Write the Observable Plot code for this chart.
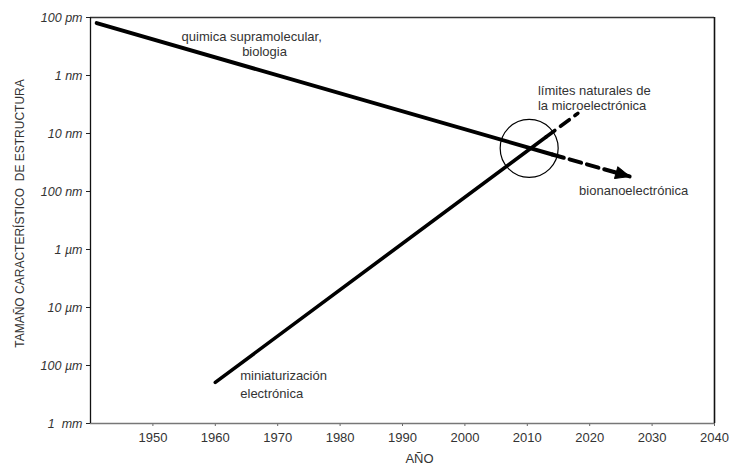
<!DOCTYPE html>
<html>
<head>
<meta charset="utf-8">
<script src="https://cdn.jsdelivr.net/npm/d3@7"></script>
<script src="https://cdn.jsdelivr.net/npm/@observablehq/plot@0.6"></script>
<style>
  html, body { margin: 0; padding: 0; background: #fff; }
</style>
</head>
<body>
<div id="chart"></div>
<script>
// ---- data (years, sizes in nanometres) ----
const xTicks = [1950, 1960, 1970, 1980, 1990, 2000, 2010, 2020, 2030, 2040];
const yTicks = [0.1, 1, 10, 100, 1000, 10000, 100000, 1000000];
const yTickLabels = ["100 pm", "1 nm", "10 nm", "100 nm", "1 µm", "10 µm", "100 µm", "1\u00a0 mm"];

// química supramolecular, biología
const quimicaYear = [1941, 2014];
const quimicaSize = [0.125, 23];
const quimicaDashYear = [2014, 2026.4];
const quimicaDashSize = [23, 55];

// miniaturización electrónica
const miniYear = [1960, 2013];
const miniSize = [195000, 11.5];
const miniDashYear = [2013, 2018.1];
const miniDashSize = [11.5, 4.5];

// crossing region
const circleYear = [2010.3];
const circleSize = [18];

// annotations
const labelText = ["quimica supramolecular,", "biologia", "límites naturales de", "la microelectrónica", "bionanoelectrónica", "miniaturización", "electrónica"];
const labelYear = [1954.6, 1964.3, 2011.7, 2011.7, 2018.3, 1964.0, 1964.0];
const labelSize = [0.219, 0.397, 1.82, 3.3, 96.6, 150000, 310000];

const yTitle = "TAMAÑO CARACTERÍSTICO\u00a0 DE ESTRUCTURA";
const xTitle = "AÑO";

// ---- layout ----
const W = 731, H = 466;
const mL = 90, mR = 17, mT = 17, mB = 43;
const xDomain = [1940, 2040];
const yDomain = [0.1, 1000000];

const toRows = (xs, ys) => xs.map((x, i) => ({x, y: ys[i]}));
const quimica = toRows(quimicaYear, quimicaSize);
const quimicaDash = toRows(quimicaDashYear, quimicaDashSize);
const mini = toRows(miniYear, miniSize);
const miniDash = toRows(miniDashYear, miniDashSize);
const labels = labelText.map((t, i) => ({t, x: labelYear[i], y: labelSize[i]}));

// arrowhead direction from screen geometry of the dashed segment
const sx = d3.scaleLinear(xDomain, [mL, W - mR]);
const sy = d3.scaleLog(yDomain, [mT, H - mB]);
const n = quimicaDash.length;
const dxp = sx(quimicaDash[n - 1].x) - sx(quimicaDash[n - 2].x);
const dyp = sy(quimicaDash[n - 1].y) - sy(quimicaDash[n - 2].y);
const arrowAngle = Math.atan2(dxp, -dyp) * 180 / Math.PI;

const triangle = {
  draw(context, l, r) {
    context.moveTo(0, -l);
    context.lineTo(-r, 0);
    context.lineTo(r, 0);
    context.closePath();
  }
};

const font = "'Liberation Sans', Arial, Helvetica, sans-serif";

const chart = Plot.plot({
  width: W,
  height: H,
  marginLeft: mL,
  marginRight: mR,
  marginTop: mT,
  marginBottom: mB,
  style: {fontFamily: font, background: "#fff", color: "#333", overflow: "visible"},
  x: {domain: xDomain, label: null},
  y: {type: "log", domain: yDomain, reverse: true, label: null},
  marks: [
    Plot.axisX({ticks: xTicks, tickFormat: d => String(d), tickSize: 3, tickPadding: 6, fontSize: 13, label: null, stroke: "#666"}),
    Plot.axisY({ticks: yTicks, tickFormat: d => yTickLabels[yTicks.indexOf(d)], tickSize: 4, tickPadding: 4, fontSize: 12.5, fontStyle: "italic", label: null, stroke: "#222"}),
    // frame
    Plot.ruleY([yDomain[1]], {stroke: "#777", strokeWidth: 1.3}),
    Plot.ruleY([yDomain[0]], {stroke: "#333", strokeWidth: 1.3}),
    Plot.ruleX([xDomain[0]], {stroke: "#111", strokeWidth: 1.3}),
    Plot.ruleX([xDomain[1]], {stroke: "#111", strokeWidth: 1.6}),
    // axis titles
    Plot.text([yTitle], {frameAnchor: "left", textAnchor: "middle", lineAnchor: "middle", rotate: -90, dx: -70, dy: -7, fontSize: 12, fill: "#333"}),
    Plot.text([xTitle], {frameAnchor: "bottom", textAnchor: "middle", lineAnchor: "middle", dx: 17, dy: 35, fontSize: 13, fill: "#333"}),
    // trend lines
    Plot.line(quimica, {x: "x", y: "y", stroke: "#000", strokeWidth: 4}),
    Plot.line(quimicaDash, {x: "x", y: "y", stroke: "#000", strokeWidth: 4, strokeDasharray: "12,6"}),
    Plot.line(mini, {x: "x", y: "y", stroke: "#000", strokeWidth: 3.6}),
    Plot.line(miniDash, {x: "x", y: "y", stroke: "#000", strokeWidth: 3.6, strokeDasharray: "11,7"}),
    Plot.vector([quimicaDash[n - 1]], {x: "x", y: "y", length: 14, r: 6, rotate: arrowAngle, anchor: "end", shape: triangle, fill: "#000", stroke: "#000", strokeWidth: 1}),
    Plot.dot(circleYear.map((x, i) => ({x, y: circleSize[i]})), {x: "x", y: "y", r: 29, stroke: "#000", strokeWidth: 1.2, fill: "none"}),
    // annotations
    Plot.text(labels, {x: "x", y: "y", text: "t", textAnchor: "start", fontSize: 13, fill: "#333"})
  ]
});

document.getElementById("chart").appendChild(chart);
</script>
</body>
</html>
